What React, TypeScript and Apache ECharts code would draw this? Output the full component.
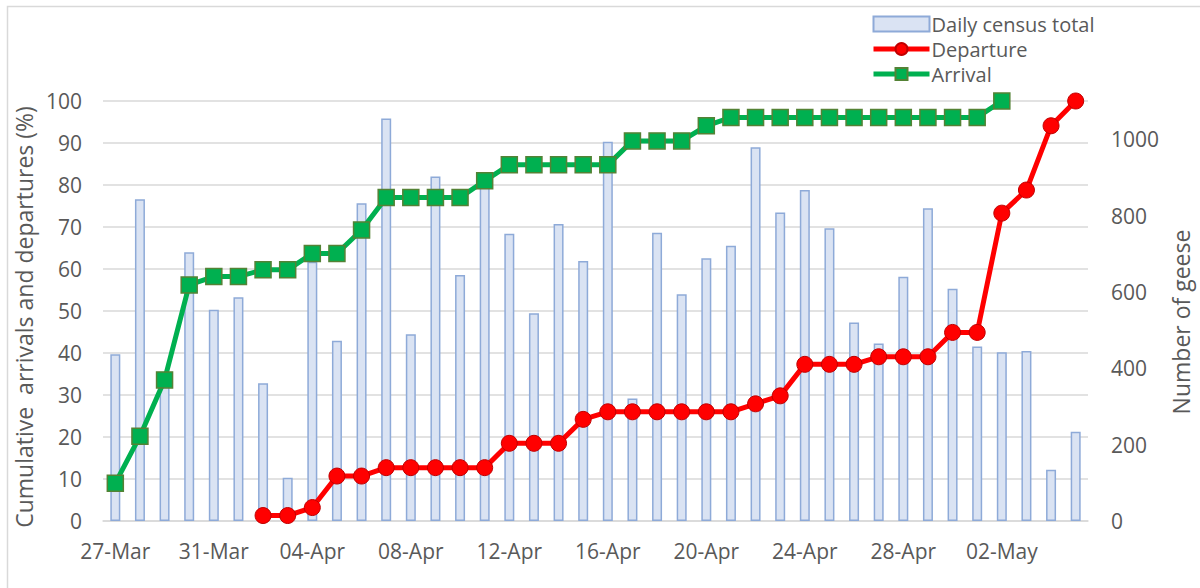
import React, { useEffect, useRef } from "react";
import * as echarts from "echarts";

const dates = [
  "27-Mar", "28-Mar", "29-Mar", "30-Mar", "31-Mar", "01-Apr", "02-Apr", "03-Apr", "04-Apr", "05-Apr",
  "06-Apr", "07-Apr", "08-Apr", "09-Apr", "10-Apr", "11-Apr", "12-Apr", "13-Apr", "14-Apr", "15-Apr",
  "16-Apr", "17-Apr", "18-Apr", "19-Apr", "20-Apr", "21-Apr", "22-Apr", "23-Apr", "24-Apr", "25-Apr",
  "26-Apr", "27-Apr", "28-Apr", "29-Apr", "30-Apr", "01-May", "02-May", "03-May", "04-May", "05-May",
];

const dailyCensus = [
  437, 843, 380, 704, 553, 586, 361, 113, 679, 472,
  832, 1054, 489, 902, 644, 880, 752, 544, 778, 681,
  993, 321, 755, 594, 688, 721, 979, 808, 867, 767,
  520, 465, 640, 819, 608, 457, 442, 445, 134, 234,
];

const departure = [
  null, null, null, null, null, null, 1.3, 1.3, 3.2, 10.7,
  10.7, 12.7, 12.7, 12.7, 12.7, 12.7, 18.5, 18.5, 18.5, 24.2,
  26.0, 26.0, 26.0, 26.0, 26.0, 26.0, 27.9, 29.8, 37.3, 37.3,
  37.3, 39.1, 39.1, 39.1, 44.9, 44.9, 73.3, 78.8, 94.1, 100,
];

const arrival = [
  9.0, 20.2, 33.6, 56.2, 58.2, 58.2, 59.8, 59.8, 63.7, 63.7,
  69.3, 77.0, 77.0, 77.0, 77.0, 81.0, 84.8, 84.8, 84.8, 84.8,
  84.8, 90.5, 90.5, 90.5, 94.1, 96.1, 96.1, 96.1, 96.1, 96.1,
  96.1, 96.1, 96.1, 96.1, 96.1, 96.1, 100, null, null, null,
];

const FONT = "'Open Sans', sans-serif";
const TEXT = "#595959";
const GRID = "#d9d9d9";

export default function App() {
  const ref = useRef<HTMLDivElement>(null);
  useEffect(() => {
    if (!ref.current) return;
    const chart = echarts.init(ref.current, null, { renderer: "svg" });
    chart.setOption({
      animation: false,
      backgroundColor: "#ffffff",
      textStyle: { fontFamily: FONT, color: TEXT },
      graphic: [
        {
          type: "rect",
          shape: { x: 7.5, y: 6.5, width: 1300, height: 700 },
          style: { fill: "none", stroke: GRID, lineWidth: 1.5 },
          silent: true,
        },
      ],
      legend: {
        orient: "vertical",
        left: 866,
        top: 9,
        itemWidth: 56,
        itemHeight: 15,
        itemGap: 5,
        lineStyle: { width: 5 },
        textStyle: {
          fontFamily: FONT,
          fontSize: 20,
          color: TEXT,
          padding: [0, 0, 0, -3],
        },
        data: [
          { name: "Daily census total", icon: "rect" },
          { name: "Departure" },
          { name: "Arrival" },
        ],
      },
      grid: { left: 103, right: 112, top: 101, bottom: 67, outerBoundsMode: "none", containLabel: false },
      xAxis: {
        type: "category",
        data: dates,
        boundaryGap: true,
        axisLine: { lineStyle: { color: GRID, width: 1.5 } },
        axisTick: { show: false },
        axisLabel: {
          interval: 3,
          fontFamily: FONT,
          fontSize: 21,
          color: TEXT,
          margin: 19,
        },
      },
      yAxis: [
        {
          type: "value",
          min: 0,
          max: 100,
          interval: 10,
          name: "Cumulative  arrivals and departures (%)",
          nameLocation: "middle",
          nameRotate: 90,
          nameGap: 60,
          nameTextStyle: { fontFamily: FONT, fontSize: 23, color: TEXT, padding: [0, 0, 0, -12] },
          axisLine: { show: false },
          axisTick: { show: false },
          axisLabel: { fontFamily: FONT, fontSize: 21, color: TEXT, margin: 21 },
          splitLine: { lineStyle: { color: GRID, width: 1.5 } },
        },
        {
          type: "value",
          min: 0,
          max: 1100,
          interval: 200,
          position: "right",
          name: "Number of geese",
          nameLocation: "middle",
          nameRotate: 90,
          nameGap: 72,
          nameTextStyle: { fontFamily: FONT, fontSize: 23, color: TEXT, padding: [0, 0, 0, -22] },
          axisLine: { show: false },
          axisTick: { show: false },
          axisLabel: {
            fontFamily: FONT,
            fontSize: 21,
            color: TEXT,
            margin: 23,
            showMaxLabel: false,
            formatter: (v: number) => (v > 1000 ? "" : String(v)),
          },
          splitLine: { show: false },
        },
      ],
      series: [
        {
          name: "Daily census total",
          type: "bar",
          yAxisIndex: 1,
          data: dailyCensus,
          barWidth: 10,
          itemStyle: { color: "#dae3f3", borderColor: "#8eaad8", borderWidth: 1.5 },
        },
        {
          name: "Departure",
          type: "line",
          yAxisIndex: 0,
          data: departure,
          symbol: "circle",
          symbolSize: 16,
          lineStyle: { color: "#ff0000", width: 5 },
          itemStyle: { color: "#ff0000", borderColor: "#c00000", borderWidth: 1 },
        },
        {
          name: "Arrival",
          type: "line",
          yAxisIndex: 0,
          data: arrival,
          symbol: "rect",
          symbolSize: 16,
          lineStyle: { color: "#00b050", width: 5 },
          itemStyle: { color: "#00b050", borderColor: "#548235", borderWidth: 1.5 },
        },
      ],
    });
    return () => chart.dispose();
  }, []);
  return (
    <div
      ref={ref}
      style={{ position: "absolute", left: 0, top: 0, width: 1200, height: 588 }}
    />
  );
}
